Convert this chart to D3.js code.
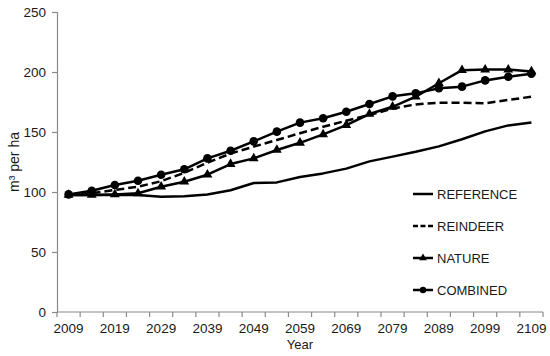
<!DOCTYPE html>
<html>
<head>
<meta charset="utf-8">
<script src="https://cdn.jsdelivr.net/npm/d3@7/dist/d3.min.js"></script>
<style>
  html, body { margin: 0; padding: 0; background: #fff; }
  text { font-family: Arial, "Liberation Sans", sans-serif; }
</style>
</head>
<body>
<svg id="chart" width="550" height="356"></svg>
<script>
const years = [2009,2014,2019,2024,2029,2034,2039,2044,2049,2054,2059,2064,2069,2074,2079,2084,2089,2094,2099,2104,2109];
const labelYears = [2009,2019,2029,2039,2049,2059,2069,2079,2089,2099,2109];
const yTicks = [0,50,100,150,200,250];

const reference = [97.5,97.5,97.5,97.5,96,96.5,98,101.5,107.5,108,112.5,115.5,119.5,125.5,129.5,133.5,138,144,150.5,155.5,158];
const reindeer  = [98,99,101.7,104.4,109,116,124.5,132,137.8,143.3,149,154.4,159.4,164.2,169.5,173,174.4,174.4,173.9,176.7,179.4];
const nature    = [97.5,97.5,98,98.9,104.4,108.6,114.4,123.3,128,135,141,148,155.8,165,171,179.4,190.6,201.5,202,202,200.5];
const combined  = [98,101,105.8,109.4,114.4,118.9,128,134.4,142.2,150.3,157.8,161.4,166.9,173.3,179.7,182.2,186.4,187.8,193,196.1,198.6];

const seriesNames = ["REFERENCE","REINDEER","NATURE","COMBINED"];
const seriesValues = [reference, reindeer, nature, combined];
const seriesStyle = [
  {dash: null, marker: null},
  {dash: "8,4", marker: null},
  {dash: null, marker: "triangle"},
  {dash: null, marker: "circle"}
];

const svg = d3.select("#chart");
const mLeft = 57, mRight = 543, mTop = 12, mBottom = 312;
const axisColor = "#8a8a8a";
const tickFont = 13.5;

const x = d3.scaleBand().domain(years).range([mLeft, mRight]).padding(0);
const y = d3.scaleLinear().domain([0, 250]).range([mBottom, mTop]);

// Y axis
const yAxis = d3.axisLeft(y).tickValues(yTicks).tickSize(5).tickPadding(6);
const gy = svg.append("g").attr("transform", `translate(${mLeft},0)`).call(yAxis);
gy.select(".domain").attr("stroke", axisColor).attr("stroke-width", 1.2);
gy.selectAll(".tick line").attr("stroke", axisColor).attr("stroke-width", 1.2);
gy.selectAll(".tick text").attr("font-size", tickFont).attr("fill", "#1a1a1a")
  .attr("font-family", "Arial, 'Liberation Sans', sans-serif");

// X axis (category axis: ticks on band boundaries, labels at band centers)
const gx = svg.append("g").attr("transform", `translate(0,${mBottom})`);
gx.append("line").attr("x1", mLeft).attr("x2", mRight).attr("y1", 0).attr("y2", 0)
  .attr("stroke", axisColor).attr("stroke-width", 1.2);
const boundaries = years.map(yr => x(yr)).concat([x(years[years.length-1]) + x.bandwidth()]);
gx.selectAll("line.tk").data(boundaries).join("line").attr("class","tk")
  .attr("x1", d => d).attr("x2", d => d).attr("y1", 0).attr("y2", 5)
  .attr("stroke", axisColor).attr("stroke-width", 1.2);
gx.selectAll("text.lbl").data(labelYears).join("text").attr("class","lbl")
  .attr("x", d => x(d) + x.bandwidth()/2).attr("y", 21)
  .attr("text-anchor", "middle").attr("font-size", tickFont).attr("fill", "#1a1a1a")
  .text(d => d);

// Axis titles
svg.append("text").attr("x", (mLeft + mRight)/2).attr("y", 349)
  .attr("text-anchor", "middle").attr("font-size", 13).attr("fill", "#1a1a1a").text("Year");
svg.append("text")
  .attr("transform", `translate(19,${(mTop+mBottom)/2}) rotate(-90)`)
  .attr("text-anchor", "middle").attr("font-size", 14).attr("fill", "#1a1a1a")
  .text("m³ per ha");

// Lines
const cx = yr => x(yr) + x.bandwidth()/2;
const line = d3.line().x((d,i) => cx(years[i])).y(d => y(d));
const tri = d3.symbol().type(d3.symbolTriangle).size(42);
const triSmall = d3.symbol().type(d3.symbolTriangle).size(26);

seriesValues.forEach((vals, s) => {
  const st = seriesStyle[s];
  const g = svg.append("g");
  g.append("path").datum(vals).attr("d", line)
    .attr("fill", "none").attr("stroke", "#000").attr("stroke-width", 2.5)
    .attr("stroke-linejoin", "round")
    .attr("stroke-dasharray", st.dash);
  if (st.marker === "circle") {
    g.selectAll("circle").data(vals).join("circle")
      .attr("cx", (d,i) => cx(years[i])).attr("cy", d => y(d)).attr("r", 4.3)
      .attr("fill", "#000");
  } else if (st.marker === "triangle") {
    g.selectAll("path.m").data(vals).join("path").attr("class","m")
      .attr("d", tri)
      .attr("transform", (d,i) => `translate(${cx(years[i])},${y(d)})`)
      .attr("fill", "#000");
  }
});

// Legend
const legY = [194, 226, 258, 290];
const lg = svg.append("g");
seriesNames.forEach((name, s) => {
  const st = seriesStyle[s];
  const yy = legY[s];
  lg.append("line").attr("x1", 413).attr("x2", 433).attr("y1", yy).attr("y2", yy)
    .attr("stroke", "#000").attr("stroke-width", 2.5).attr("stroke-dasharray", st.dash ? "5,2.5" : null);
  if (st.marker === "circle") {
    lg.append("circle").attr("cx", 423).attr("cy", yy).attr("r", 3.2).attr("fill", "#000");
  } else if (st.marker === "triangle") {
    lg.append("path").attr("d", triSmall).attr("transform", `translate(423,${yy})`).attr("fill", "#000");
  }
  lg.append("text").attr("x", 437).attr("y", yy).attr("dy", "0.35em")
    .attr("font-size", 13).attr("fill", "#1a1a1a").text(name);
});
</script>
</body>
</html>
